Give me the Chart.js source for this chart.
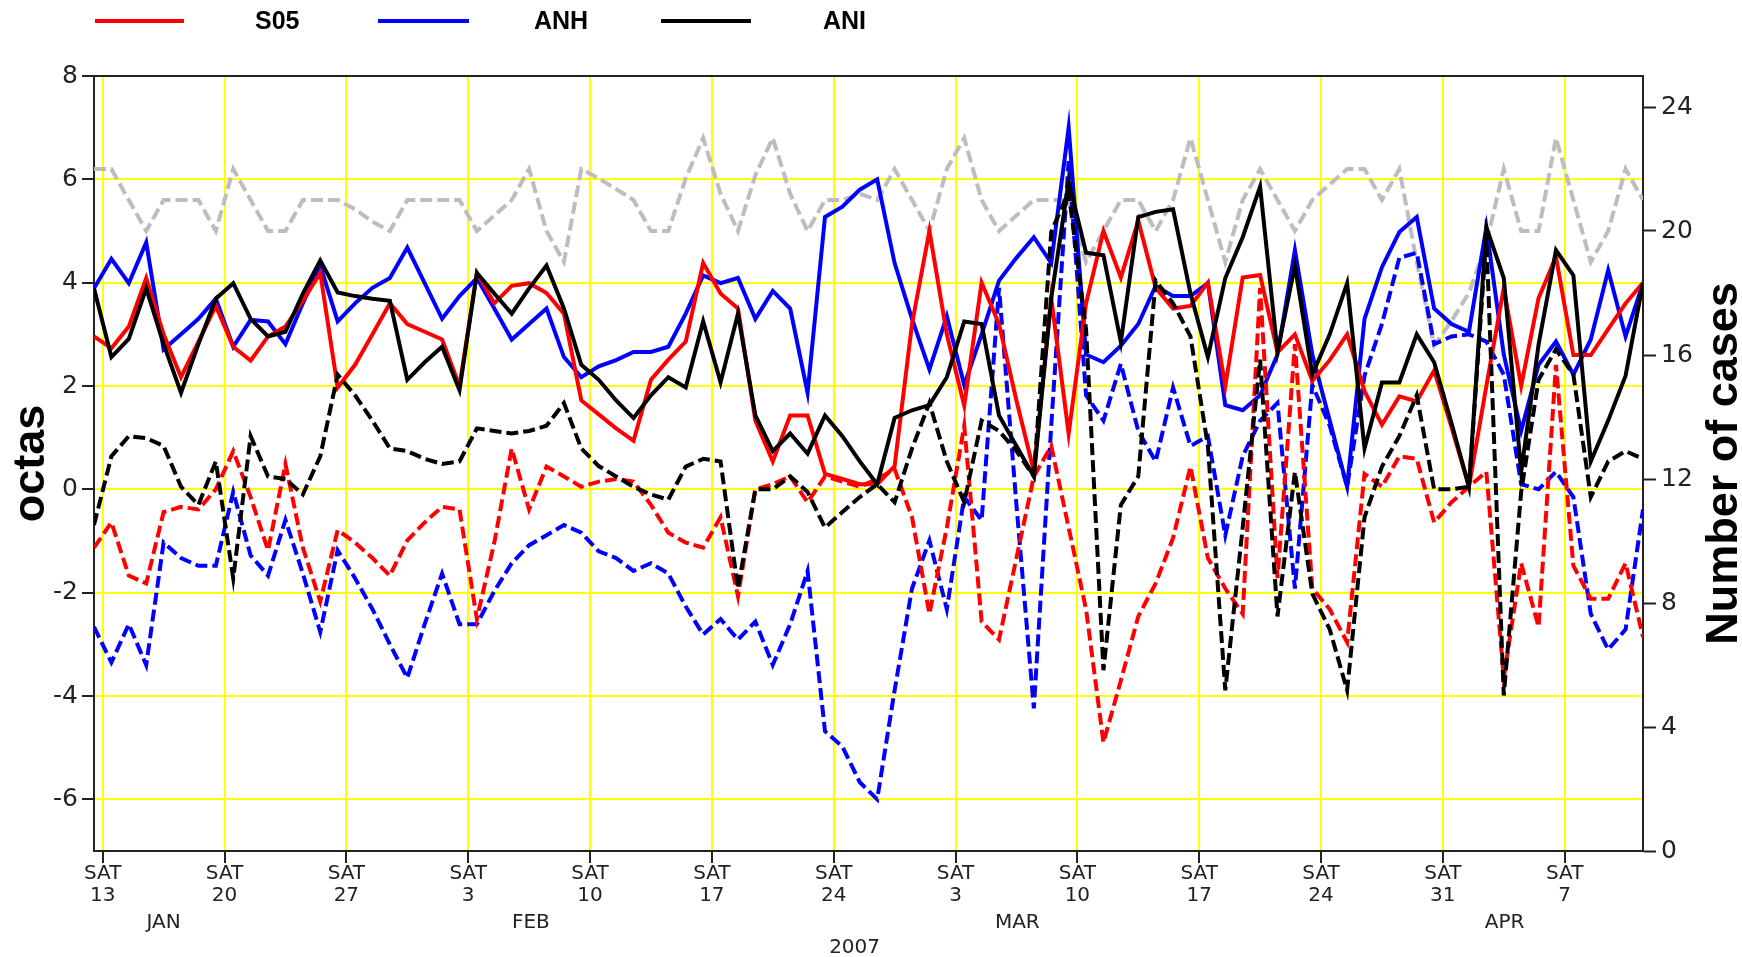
<!DOCTYPE html>
<html lang="en">
<head>
<meta charset="UTF-8">
<title>S05 / ANH / ANI - 2007</title>
<script src="https://cdn.jsdelivr.net/npm/chart.js"></script>
<style>
  body { margin: 0; background: #fff; }
  #wrap { width: 1742px; height: 957px; }
</style>
</head>
<body>
<div id="wrap"><canvas id="chart" width="1742" height="957"></canvas></div>
<script>
// one value per day, 12 Jan 2007 (index 0) to 11 Apr 2007 (index 89), octas
const s05Solid = [
  2.96, 2.73, 3.15, 4.09, 3.0, 2.17, 2.86, 3.55, 2.76, 2.49, 2.96, 3.15, 3.65, 4.19, 1.97,
  2.41, 3.0, 3.6, 3.2, 3.05, 2.9, 2.0, 4.19, 3.6, 3.94, 3.99, 3.8, 3.4, 1.72, 1.45,
  1.18, 0.94, 2.12, 2.51, 2.86, 4.38, 3.79, 3.5, 1.33, 0.54, 1.43, 1.43, 0.3, 0.2, 0.1,
  0.1, 0.45, 3.2, 5.0, 3.0, 1.62, 4.0, 3.2, 1.72, 0.35, 3.7, 1.08, 3.6, 5.0, 4.1,
  5.2, 3.9, 3.5, 3.55, 4.0, 2.0, 4.1, 4.15, 2.65, 3.0, 2.1, 2.5, 3.0, 1.9, 1.25,
  1.8, 1.7, 2.3, 1.2, 0.05, 2.0, 3.9, 2.0, 3.7, 4.5, 2.6, 2.6, 3.1, 3.6, 4.0
];
const anhSolid = [
  3.89, 4.46, 3.99, 4.78, 2.71, 3.0, 3.3, 3.69, 2.76, 3.28, 3.25, 2.81, 3.6, 4.33, 3.25,
  3.6, 3.9, 4.09, 4.68, 3.99, 3.3, 3.74, 4.09, 3.5, 2.9, 3.2, 3.5, 2.56, 2.17, 2.38,
  2.5, 2.66, 2.66, 2.76, 3.4, 4.14, 3.99, 4.09, 3.3, 3.84, 3.5, 1.87, 5.27, 5.47, 5.8,
  6.0, 4.38, 3.3, 2.32, 3.35, 2.02, 3.0, 4.04, 4.48, 4.88, 4.38, 7.0, 2.61, 2.46, 2.78,
  3.2, 3.94, 3.74, 3.74, 3.99, 1.63, 1.53, 1.82, 2.61, 4.63, 2.61, 1.33, 0.05, 3.3, 4.3,
  4.98, 5.27, 3.5, 3.2, 3.05, 5.07, 2.61, 1.13, 2.41, 2.86, 2.22, 2.9, 4.24, 2.96, 3.99
];
const aniSolid = [
  3.89, 2.56, 2.91, 3.89, 2.81, 1.87, 2.81, 3.69, 3.99, 3.3, 2.96, 3.05, 3.79, 4.43, 3.81,
  3.74, 3.69, 3.65, 2.12, 2.46, 2.76, 1.92, 4.19, 3.79, 3.4, 3.89, 4.33, 3.5, 2.41, 2.12,
  1.72, 1.38, 1.82, 2.17, 1.97, 3.25, 2.07, 3.4, 1.43, 0.74, 1.08, 0.69, 1.43, 1.03, 0.54,
  0.1, 1.38, 1.53, 1.63, 2.17, 3.25, 3.2, 1.43, 0.84, 0.25, 3.7, 5.96, 4.58, 4.53, 2.85,
  5.27, 5.37, 5.42, 3.79, 2.56, 4.09, 4.88, 5.86, 2.66, 4.33, 2.22, 3.0, 3.99, 0.79, 2.07,
  2.07, 3.0, 2.46, 1.28, 0.05, 5.07, 4.09, 0.34, 2.8, 4.63, 4.14, 0.54, 1.33, 2.2, 4.0
];
const s05Dashed = [
  -1.13, -0.64, -1.67, -1.82, -0.44, -0.34, -0.39, 0.0, 0.74, -0.15, -1.18, 0.49, -1.13, -2.17, -0.79,
  -1.03, -1.33, -1.67, -0.99, -0.64, -0.34, -0.39, -2.51, -1.03, 0.79, -0.39, 0.44, 0.25, 0.05, 0.15,
  0.2, 0.15, -0.3, -0.84, -1.03, -1.13, -0.54, -2.07, 0.0, 0.1, 0.25, -0.25, 0.25, 0.15, 0.05,
  0.2, 0.39, -0.54, -2.41, -0.74, 1.23, -2.56, -2.91, -1.33, 0.25, 0.84, -0.74, -2.32, -4.9, -3.7,
  -2.46, -1.82, -0.94, 0.44, -1.33, -1.92, -2.41, 3.9, -1.72, 2.81, -1.92, -2.32, -2.96, 0.3, 0.05,
  0.64, 0.59, -0.64, -0.25, 0.05, 0.34, -3.65, -1.43, -2.66, 2.41, -1.48, -2.12, -2.12, -1.43, -2.86
];
const anhDashed = [
  -2.66, -3.35, -2.61, -3.4, -1.03, -1.33, -1.48, -1.48, -0.05, -1.28, -1.67, -0.59, -1.63, -2.76, -1.18,
  -1.72, -2.32, -3.0, -3.65, -2.61, -1.63, -2.61, -2.61, -1.97, -1.43, -1.08, -0.89, -0.69, -0.84, -1.2,
  -1.33, -1.58, -1.43, -1.63, -2.27, -2.81, -2.51, -2.91, -2.56, -3.4, -2.61, -1.58, -4.68, -4.98, -5.67,
  -6.0, -3.89, -1.92, -0.99, -2.32, -0.15, -0.6, 3.9, -0.3, -4.24, 1.23, 6.35, 1.82, 1.33, 2.43,
  1.13, 0.54, 1.97, 0.84, 1.03, -0.89, 0.64, 1.33, 1.67, -1.92, 2.02, 1.23, 0.05, 2.2, 3.2,
  4.48, 4.58, 2.81, 2.96, 3.0, 2.86, 2.22, 0.1, 0.0, 0.34, -0.15, -2.41, -3.1, -2.71, -0.39
];
const aniDashed = [
  -0.69, 0.64, 1.03, 0.99, 0.84, 0.05, -0.3, 0.54, -1.72, 1.03, 0.25, 0.2, -0.1, 0.64, 2.22,
  1.82, 1.33, 0.79, 0.74, 0.59, 0.49, 0.54, 1.18, 1.13, 1.08, 1.13, 1.23, 1.67, 0.79, 0.45,
  0.25, 0.05, -0.1, -0.2, 0.44, 0.59, 0.54, -1.92, 0.0, 0.0, 0.25, -0.05, -0.74, -0.44, -0.15,
  0.1, -0.25, 0.79, 1.67, 0.54, -0.25, 1.33, 1.13, 0.74, 0.25, 4.98, 5.76, 3.1, -3.5, -0.3,
  0.25, 4.04, 3.6, 2.96, 0.84, -3.89, -0.74, 2.51, -2.46, 0.34, -2.02, -2.71, -3.89, -0.54, 0.44,
  1.03, 1.82, 0.0, 0.0, 0.05, 4.88, -3.99, -0.05, 2.12, 2.71, 2.22, -0.15, 0.54, 0.74, 0.59
];
// number of cases (right axis)
const nCases = [
  22, 22, 21, 20, 21, 21, 21, 20, 22, 21, 20, 20, 21, 21, 21,
  20.7, 20.3, 20, 21, 21, 21, 21, 20, 20.5, 21, 22, 20, 19, 22, 21.7,
  21.35, 21, 20, 20, 21.7, 23, 21.2, 20, 21.8, 23, 21.2, 20, 21, 21, 21.2,
  21, 22, 21, 20, 22, 23, 21, 20, 20.5, 21, 21, 21, 19, 20, 21,
  21, 20, 21, 23, 21, 19, 21, 22, 21, 20, 21, 21.5, 22, 22, 21,
  22, 19, 16.3, 17.1, 18, 19.6, 22, 20, 20, 23, 21, 19, 20, 22, 21
];

// axis ticks / labels
const satDays = [0.5, 7.5, 14.5, 21.5, 28.5, 35.5, 42.5, 49.5, 56.5, 63.5, 70.5, 77.5, 84.5];
const satLabels = ['13', '20', '27', '3', '10', '17', '24', '3', '10', '17', '24', '31', '7'];
const monthLabels = ['JAN', 'FEB', 'MAR', 'APR'];
const monthDays = [4.0, 25.1, 53.05, 81.05];
const yearLabel = '2007';
const yearDay = 43.7;
const octaTicks = [8, 6, 4, 2, 0, -2, -4, -6];
const caseTicks = [0, 4, 8, 12, 16, 20, 24];

const legendItems = [
  { text: 'S05', color: '#ff0000', x0: 95, x1: 184, tx: 255 },
  { text: 'ANH', color: '#0000ff', x0: 378, x1: 469, tx: 534 },
  { text: 'ANI', color: '#000000', x0: 661, x1: 751, tx: 823 }
];

function pts(arr) { return arr.map((v, i) => ({ x: i, y: v })); }

const tickFont = { family: '"DejaVu Sans", sans-serif', size: 25 };
const dateFont = { family: '"DejaVu Sans", sans-serif', size: 20, lineHeight: 1.1 };

const decorations = {
  id: 'decorations',
  afterDraw(chart) {
    const ctx = chart.ctx;
    const area = chart.chartArea;
    const xs = chart.scales.x;
    ctx.save();
    // top frame line
    ctx.strokeStyle = '#222';
    ctx.lineWidth = 2;
    ctx.beginPath();
    ctx.moveTo(area.left, area.top);
    ctx.lineTo(area.right, area.top);
    ctx.stroke();

    // legend
    legendItems.forEach(it => {
      ctx.strokeStyle = it.color;
      ctx.lineWidth = 4;
      ctx.beginPath();
      ctx.moveTo(it.x0, 21);
      ctx.lineTo(it.x1, 21);
      ctx.stroke();
      ctx.fillStyle = '#000';
      ctx.font = 'bold 25px "Liberation Sans", Arial, sans-serif';
      ctx.textAlign = 'left';
      ctx.textBaseline = 'middle';
      ctx.fillText(it.text, it.tx, 22);
    });

    // months and year
    ctx.fillStyle = '#222';
    ctx.font = '20px "DejaVu Sans", sans-serif';
    ctx.textAlign = 'center';
    ctx.textBaseline = 'middle';
    monthLabels.forEach((m, i) => ctx.fillText(m, xs.getPixelForValue(monthDays[i]), 923));
    ctx.fillText(yearLabel, xs.getPixelForValue(yearDay), 948);

    // axis titles
    ctx.fillStyle = '#000';
    ctx.font = 'bold 45px "Liberation Sans", Arial, sans-serif';
    ctx.textBaseline = 'alphabetic';
    const midY = (area.top + area.bottom) / 2;
    ctx.save();
    ctx.translate(44, midY);
    ctx.rotate(-Math.PI / 2);
    ctx.fillText('octas', 0, 0);
    ctx.restore();
    ctx.save();
    ctx.translate(1737, midY);
    ctx.rotate(-Math.PI / 2);
    ctx.fillText('Number of cases', 0, 0);
    ctx.restore();
    ctx.restore();
  }
};

function line(data, color, dashed, axis) {
  return {
    data: pts(data),
    borderColor: color,
    backgroundColor: color,
    borderWidth: 4,
    borderDash: dashed ? [12, 5] : [],
    pointRadius: 0,
    tension: 0,
    fill: false,
    yAxisID: axis || 'y'
  };
}

new Chart(document.getElementById('chart'), {
  type: 'line',
  data: {
    datasets: [
      Object.assign(line(aniSolid, '#000000', false), { label: 'ANI' }),
      Object.assign(line(aniDashed, '#000000', true), { label: 'ANI dashed' }),
      Object.assign(line(s05Solid, '#ff0000', false), { label: 'S05' }),
      Object.assign(line(s05Dashed, '#ff0000', true), { label: 'S05 dashed' }),
      Object.assign(line(anhSolid, '#0000ff', false), { label: 'ANH' }),
      Object.assign(line(anhDashed, '#0000ff', true), { label: 'ANH dashed' }),
      Object.assign(line(nCases, '#bdbdbd', true, 'y1'), { label: 'cases' })
    ]
  },
  options: {
    responsive: false,
    animation: false,
    devicePixelRatio: 1,
    layout: { padding: { top: 76, left: 0, right: 0, bottom: 0 } },
    plugins: { legend: { display: false }, tooltip: { enabled: false } },
    scales: {
      x: {
        type: 'linear',
        min: 0,
        max: 89,
        afterBuildTicks: s => { s.ticks = satDays.map(v => ({ value: v })); },
        afterFit: s => { s.height = 106; },
        grid: { color: '#ffff00', lineWidth: 2, tickLength: 12, tickColor: '#222', tickWidth: 2 },
        border: { color: '#222', width: 2 },
        ticks: {
          autoSkip: false, maxRotation: 0, minRotation: 0, padding: 0,
          color: '#222', font: dateFont,
          callback: (v, i) => ['SAT', satLabels[i]]
        }
      },
      y: {
        position: 'left',
        min: -7,
        max: 8,
        afterBuildTicks: s => { s.ticks = octaTicks.map(v => ({ value: v })); },
        afterFit: s => { s.width = 94; },
        grid: { color: '#ffff00', lineWidth: 2, tickLength: 12, tickColor: '#222', tickWidth: 2 },
        border: { color: '#222', width: 2 },
        ticks: { padding: 4, color: '#222', font: tickFont }
      },
      y1: {
        position: 'right',
        min: 0,
        max: 25,
        afterBuildTicks: s => { s.ticks = caseTicks.map(v => ({ value: v })); },
        afterFit: s => { s.width = 99; },
        grid: { drawOnChartArea: false, tickLength: 13, tickColor: '#222', tickWidth: 2 },
        border: { color: '#222', width: 2 },
        ticks: { padding: 5, color: '#222', font: tickFont }
      }
    }
  },
  plugins: [decorations]
});
</script>
</body>
</html>
